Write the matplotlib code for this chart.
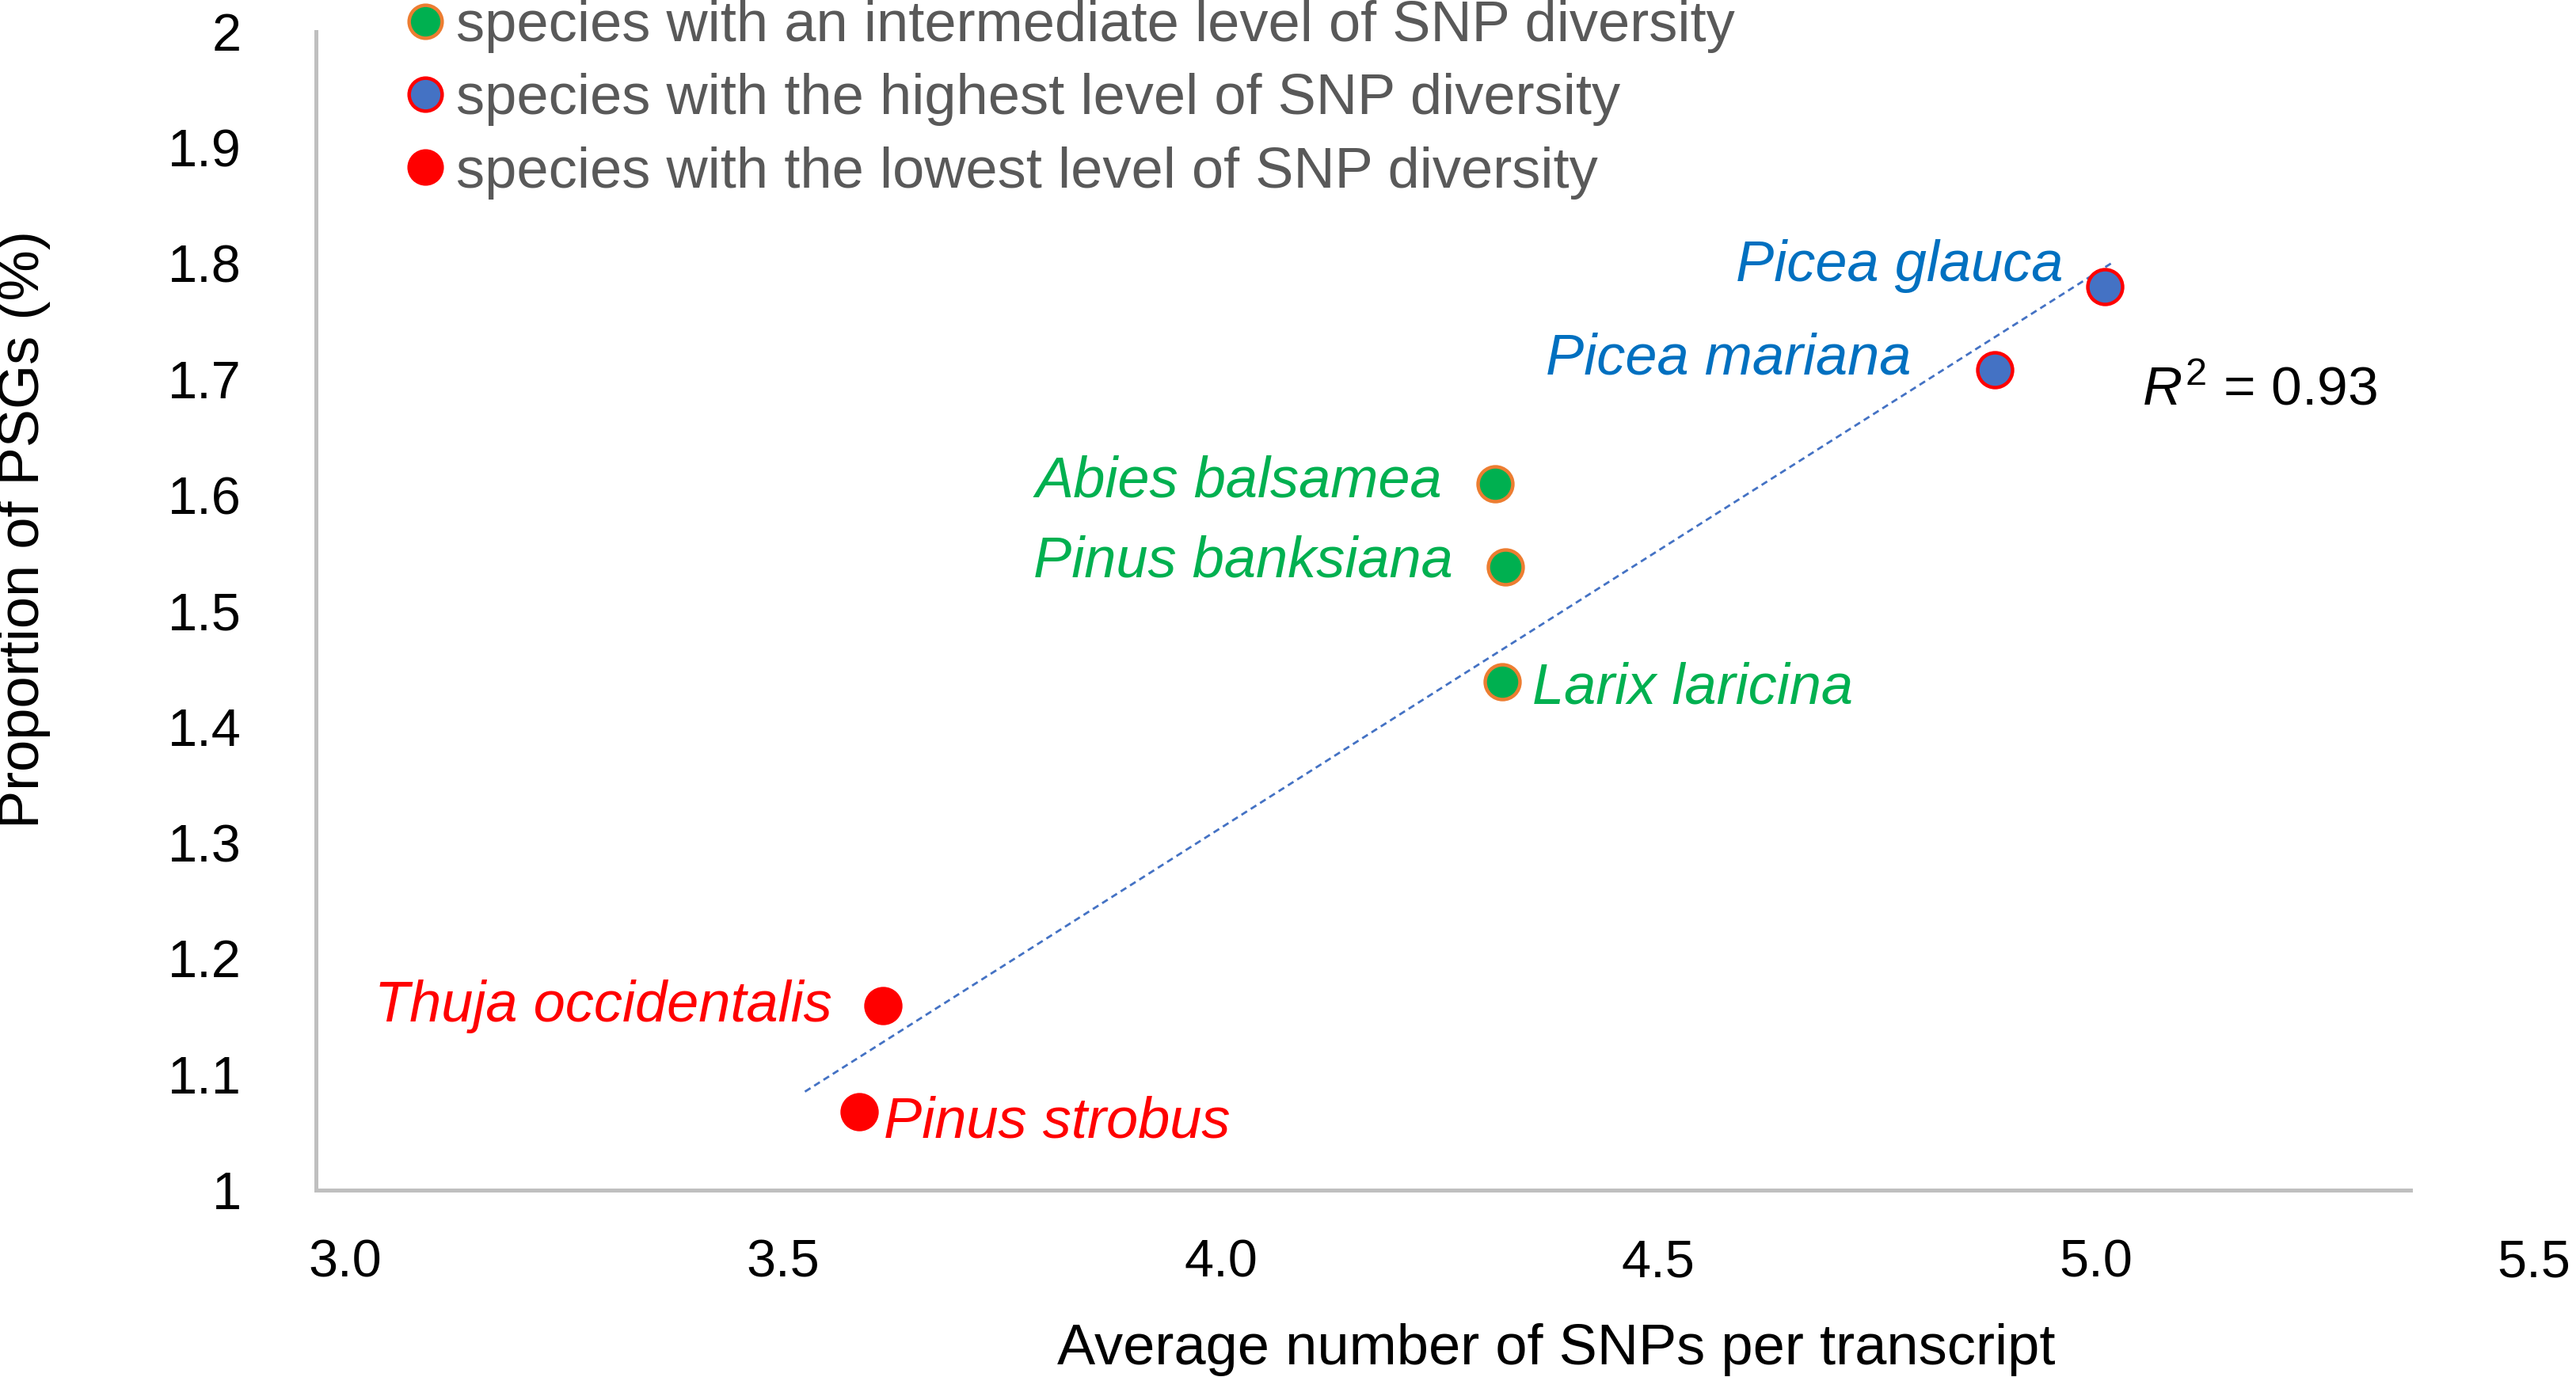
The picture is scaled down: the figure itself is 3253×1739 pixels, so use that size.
import numpy as np
import matplotlib
matplotlib.use("Agg")
import matplotlib.pyplot as plt
from matplotlib.lines import Line2D

plt.rcParams['font.family'] = ['Liberation Sans', 'DejaVu Sans']
plt.rcParams['mathtext.fontset'] = 'custom'
plt.rcParams['mathtext.rm'] = 'Liberation Sans'
plt.rcParams['mathtext.it'] = 'Liberation Sans:italic'

# species values
species = ["Picea glauca", "Picea mariana", "Abies balsamea", "Pinus banksiana",
           "Larix laricina", "Thuja occidentalis", "Pinus strobus"]
snps = [5.010, 4.884, 4.313, 4.325, 4.321, 3.614, 3.587]
psg = [1.780, 1.708, 1.610, 1.538, 1.439, 1.159, 1.068]
group = ["high", "high", "mid", "mid", "mid", "low", "low"]

# linear trendline as drawn in the figure
trend_x = [3.525, 5.017]
trend_y = [1.085, 1.800]
r_squared = 0.93

x_ticks = [3.0, 3.5, 4.0, 4.5, 5.0, 5.5]
y_ticks = [1.0, 1.1, 1.2, 1.3, 1.4, 1.5, 1.6, 1.7, 1.8, 1.9, 2.0]
y_ticklabels = ["1", "1.1", "1.2", "1.3", "1.4", "1.5", "1.6", "1.7", "1.8", "1.9", "2"]

legend_labels = {
    "mid": "species with an intermediate level of SNP diversity",
    "high": "species with the highest level of SNP diversity",
    "low": "species with the lowest level of SNP diversity",
}

GREEN, ORANGE, BLUE, RED = "#00B050", "#ED7D31", "#4472C4", "#FF0000"
style = {
    "mid": dict(fc=GREEN, ec=ORANGE, txt=GREEN),
    "high": dict(fc=BLUE, ec=RED, txt="#0070C0"),
    "low": dict(fc=RED, ec=RED, txt=RED),
}
# label offset (points) and alignment relative to each marker
lab_off = {
    "Picea glauca": (-19, 2.5, "right"),
    "Picea mariana": (-38, -2, "right"),
    "Abies balsamea": (-24, -6, "right"),
    "Pinus banksiana": (-24, -4.5, "right"),
    "Larix laricina": (14, -10, "left"),
    "Thuja occidentalis": (-23, -7, "right"),
    "Pinus strobus": (11, -12, "left"),
}

DPI = 200
X0, X1 = 2.9665, 5.5
fig = plt.figure(figsize=(3253 / DPI, 1739 / DPI), dpi=DPI)
ax = fig.add_axes([399 / 3253, 1 - 1503 / 1739, (3200 - 399) / 3253, (1503 - 40) / 1739])
ax.set_xlim(X0, X1)
ax.set_ylim(1.0, 2.0)

ax.plot(trend_x, trend_y, ls=(0, (3, 2)), color=BLUE, lw=1.0, zorder=2)

for name, x, y, g in zip(species, snps, psg, group):
    st = style[g]
    ax.scatter([x], [y], s=250, c=st["fc"], edgecolors=st["ec"], linewidths=1.6, zorder=3)
    dx, dy, ha = lab_off[name]
    ax.annotate(name, (x, y), xytext=(dx, dy), textcoords="offset points",
                ha=ha, va="baseline", fontsize=26, style="italic", color=st["txt"])

ax.text(5.052, 1.678, r"$R^{\mathrm{2}}$" + f" = {r_squared:.2f}", fontsize=25,
        color="black", va="baseline", ha="left")

for s in ["top", "right"]:
    ax.spines[s].set_visible(False)
for s in ["left", "bottom"]:
    ax.spines[s].set_color("#BFBFBF")
    ax.spines[s].set_linewidth(1.8)
ax.spines["bottom"].set_bounds(X0, 5.359)

ax.set_xticks(x_ticks)
ax.set_xticklabels([f"{v:.1f}" for v in x_ticks])
ax.set_yticks(y_ticks)
ax.set_yticklabels(y_ticklabels)
ax.tick_params(axis="x", length=0, pad=22, labelsize=24)
ax.tick_params(axis="y", length=0, pad=34, labelsize=24)

fig.text(31 / 3253, 1 - 668 / 1739, "Proportion of PSGs (%)", rotation=90,
         ha="center", va="center", fontsize=26)
fig.text(1965 / 3253, 1 - 1723 / 1739, "Average number of SNPs per transcript",
         ha="center", va="baseline", fontsize=26)

handles = []
for g in ["mid", "high", "low"]:
    st = style[g]
    handles.append(Line2D([], [], ls="none", marker="o", markersize=15,
                          mfc=st["fc"], mec=st["ec"], mew=1.6,
                          label=legend_labels[g]))
leg = fig.legend(handles=handles, loc="upper left", bbox_to_anchor=(515 / 3253, 1.0),
                 frameon=False, fontsize=26, handlelength=0.6, handletextpad=0.24,
                 labelspacing=0.35, borderpad=0.0, borderaxespad=0.0)
for t in leg.get_texts():
    t.set_color("#595959")

fig.savefig("out.png", dpi=DPI)
